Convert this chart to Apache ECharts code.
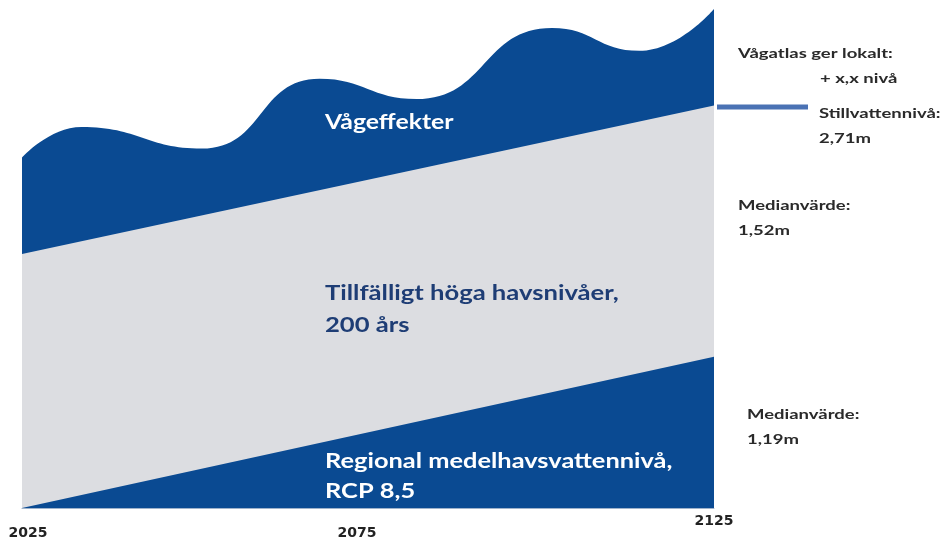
<!DOCTYPE html>
<html>
<head>
<meta charset="utf-8">
<script src="https://cdn.jsdelivr.net/npm/echarts@6/dist/echarts.min.js"></script>
<style>
  html, body { margin: 0; padding: 0; background: #fff; }
  #chart { width: 948px; height: 546px; }
</style>
</head>
<body>
<div id="chart"></div>
<script>
// årtal på x-axeln
const xTicks = [2025, 2075, 2125];

// vågeffekter (överkant), läst ur bilden: toppar och dalar
const waveYears = [2025, 2033.6, 2051.0, 2068.0, 2082.0, 2101.6, 2114.2, 2125];
const waveTop = [2.76, 3.0, 2.83, 3.38, 3.22, 3.78, 3.6, 3.93];

// tillfälligt höga havsnivåer (överkant)
const stillYears = [2025, 2125];
const stillTop = [2.0, 3.17];

// regional medelhavsvattennivå
const meanYears = [2025, 2125];
const meanLevel = [0, 1.19];

const darkBlue = '#0a4a92';
const grey = '#dcdde1';
const font = 'Lato, "Open Sans", sans-serif';
const axisFont = '"DejaVu Sans", sans-serif';

function pairs(xs, ys) {
    return xs.map((x, i) => [x, ys[i]]);
}

// text som är lite utdragen i sidled, som i originalbilden
function label(text, x, y, size, color, stretch) {
    return {
        type: 'text',
        x: x,
        y: y,
        scaleX: stretch,
        z: 10,
        style: {
            text: text,
            fill: color,
            font: 'bold ' + size + 'px ' + font,
            align: 'left',
            verticalAlign: 'middle'
        }
    };
}

const tickStyle = {
    fontFamily: axisFont,
    fontWeight: 'bold',
    fontSize: 14,
    color: '#222'
};

const chart = echarts.init(document.getElementById('chart'));

const option = {
    animation: false,
    grid: {
        left: 22,
        right: 234,
        top: 0,
        bottom: 38
    },
    xAxis: {
        type: 'value',
        min: 2025,
        max: 2125,
        interval: 50,
        axisLine: {
            show: true,
            lineStyle: { color: '#9fb3cc', width: 1 }
        },
        axisTick: { show: false },
        splitLine: { show: false },
        axisLabel: Object.assign({
            margin: 6,
            formatter: function (v) {
                // 2125 sitter högre upp i originalet
                if (v === xTicks[0]) return '{first|' + v + '}';
                if (v === xTicks[1]) return '{mid|' + v + '}';
                return String(v);
            },
            rich: {
                first: Object.assign({ padding: [12, 0, 0, 12] }, tickStyle),
                mid: Object.assign({ padding: [12, 22, 0, 0] }, tickStyle)
            }
        }, tickStyle)
    },
    yAxis: {
        type: 'value',
        min: 0,
        max: 4,
        show: false
    },
    series: [
        {
            name: 'Vågeffekter',
            type: 'line',
            smooth: 0.5,
            symbol: 'none',
            data: pairs(waveYears, waveTop),
            lineStyle: { width: 0 },
            areaStyle: { color: darkBlue, opacity: 1 },
            z: 1
        },
        {
            name: 'Tillfälligt höga havsnivåer, 200 års',
            type: 'line',
            symbol: 'none',
            data: pairs(stillYears, stillTop),
            lineStyle: { width: 0 },
            areaStyle: { color: grey, opacity: 1 },
            z: 2
        },
        {
            name: 'Regional medelhavsvattennivå, RCP 8,5',
            type: 'line',
            symbol: 'none',
            data: pairs(meanYears, meanLevel),
            lineStyle: { width: 0 },
            areaStyle: { color: darkBlue, opacity: 1 },
            z: 3
        }
    ],
    graphic: [
        // texter i ytorna
        label('Vågeffekter', 325, 123, 20, '#fff', 1.24),
        label('Tillfälligt höga havsnivåer,', 325, 294, 20, '#1e3d75', 1.28),
        label('200 års', 325, 326, 20, '#1e3d75', 1.28),
        label('Regional medelhavsvattennivå,', 325, 462, 20, '#fff', 1.27),
        label('RCP 8,5', 325, 492, 20, '#fff', 1.27),

        // markering av stillvattennivå
        { type: 'line', z: 10,
          shape: { x1: 717, y1: 107, x2: 808, y2: 107 },
          style: { stroke: '#4a72b4', lineWidth: 5 } },

        // kommentarer till höger
        label('Vågatlas ger lokalt:', 738, 53, 14, '#2a2a2a', 1.32),
        label('+ x,x nivå', 820, 78, 14, '#2a2a2a', 1.32),
        label('Stillvattennivå:', 819, 113, 14, '#2a2a2a', 1.32),
        label('2,71m', 819, 138, 14, '#2a2a2a', 1.32),
        label('Medianvärde:', 738, 205, 14, '#2a2a2a', 1.32),
        label('1,52m', 738, 230, 14, '#2a2a2a', 1.32),
        label('Medianvärde:', 747, 414, 14, '#2a2a2a', 1.32),
        label('1,19m', 747, 439, 14, '#2a2a2a', 1.32)
    ]
};

chart.setOption(option);
</script>
</body>
</html>
